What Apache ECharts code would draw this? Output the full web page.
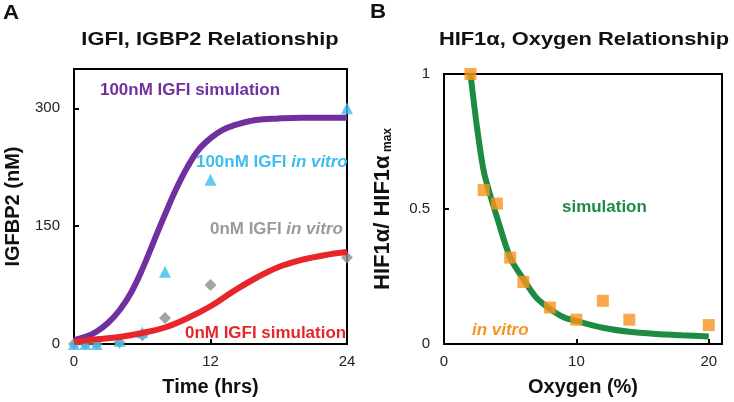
<!DOCTYPE html>
<html>
<head>
<meta charset="utf-8">
<script src="https://cdn.jsdelivr.net/npm/echarts@6/dist/echarts.min.js"></script>
<style>
  html, body { margin: 0; padding: 0; background: #fff; }
  #chart { width: 734px; height: 402px; }
</style>
</head>
<body>
<div id="chart"></div>
<script>
// panel A: IGFBP2 vs time
const simHours = [0, 1, 2, 3, 4, 5, 6, 7, 8, 9, 10, 11, 12, 13, 14, 16, 18, 20, 22, 24];
const sim100nM = [5, 9, 16, 27, 43, 65, 95, 130, 165, 198, 226, 248, 262, 272, 278, 285, 287, 288, 288, 288];
const simHours0 = [0, 2, 4, 6, 8, 10, 12, 14, 16, 18, 20, 22, 24];
const sim0nM = [3, 6, 9, 14, 21, 33, 48, 67, 84, 98, 107, 113, 117];
const vitroHours = [0, 1, 2, 4, 6, 8, 12, 24];
const vitro100nM = [0, 0, 0, 4, 15, 92, 209, 300];
const vitroHours0 = [0, 1, 2, 4, 6, 8, 12, 24];
const vitro0nM = [0, 0, 0, 2, 11, 33, 75, 110];

// panel B: HIF1a vs oxygen
const simOxygen = [2, 2.5, 3, 3.5, 4, 5, 6, 7, 8, 9, 10, 12, 14, 16, 18, 20];
const simHif = [1.0, 0.8, 0.64, 0.55, 0.47, 0.32, 0.24, 0.17, 0.13, 0.1, 0.085, 0.06, 0.045, 0.037, 0.032, 0.028];
const vitroOxygen = [2, 3, 4, 5, 6, 8, 10, 12, 14, 20];
const vitroHif = [1.0, 0.57, 0.52, 0.32, 0.23, 0.135, 0.09, 0.16, 0.09, 0.07];

const ticksA_x = [0, 12, 24];
const ticksA_y = [0, 150, 300];
const ticksB_x = [0, 10, 20];
const ticksB_y = [0, 0.5, 1];

const pair = (xs, ys) => xs.map((x, i) => [x, ys[i]]);
const font = 'Liberation Sans, Arial, sans-serif';

const chart = echarts.init(document.getElementById('chart'));

const tickStyle = { show: true, inside: true, length: 5, lineStyle: { color: '#000', width: 2 } };
const nameStyle = { fontFamily: font, fontWeight: 'bold', fontSize: 20, color: '#111' };
const labelStyle = { fontFamily: font, fontSize: 15, color: '#222' };

function labelOnly(ticks) {
  return v => (ticks.some(t => Math.abs(t - v) < 1e-9) ? String(v) : '');
}

// text drawn a bit wider than the font, like the original figure
function txt(x, y, text, size, color, italic) {
  return {
    type: 'text', x: x, y: y, scaleX: 1.06, z: 10,
    style: { text: text, fill: color, font: (italic ? 'italic ' : '') + 'bold ' + size + 'px ' + font, verticalAlign: 'middle' }
  };
}

function richTxt(x, y, plain, italic, size, color) {
  return {
    type: 'text', x: x, y: y, scaleX: 1.06, z: 10,
    style: {
      text: '{a|' + plain + '}{b|' + italic + '}', verticalAlign: 'middle',
      rich: {
        a: { font: 'bold ' + size + 'px ' + font, fill: color },
        b: { font: 'italic bold ' + size + 'px ' + font, fill: color }
      }
    }
  };
}

const option = {
  animation: false,
  backgroundColor: '#fff',
  grid: [
    { left: 74, top: 69, width: 273, height: 279, show: true, borderColor: '#000', borderWidth: 2 },
    { left: 444, top: 74, width: 278, height: 274, show: true, borderColor: '#000', borderWidth: 2 }
  ],
  xAxis: [
    {
      gridIndex: 0, type: 'value', min: 0, max: 24, interval: 12,
      name: 'Time (hrs)', nameLocation: 'middle', nameGap: 33, nameTextStyle: nameStyle,
      axisLine: { lineStyle: { color: '#000', width: 2 } }, splitLine: { show: false },
      axisTick: tickStyle,
      axisLabel: Object.assign({ margin: 10, formatter: labelOnly(ticksA_x) }, labelStyle)
    },
    {
      gridIndex: 1, type: 'value', min: 0, max: 21, interval: 10,
      name: 'Oxygen (%)', nameLocation: 'middle', nameGap: 33, nameTextStyle: nameStyle,
      axisLine: { lineStyle: { color: '#000', width: 2 } }, splitLine: { show: false },
      axisTick: tickStyle,
      axisLabel: Object.assign({ margin: 10, formatter: labelOnly(ticksB_x) }, labelStyle)
    }
  ],
  yAxis: [
    {
      gridIndex: 0, type: 'value', min: 0, max: 350, interval: 150,
      name: 'IGFBP2 (nM)', nameLocation: 'middle', nameGap: 51, nameTextStyle: nameStyle,
      axisLine: { lineStyle: { color: '#000', width: 2 } }, splitLine: { show: false },
      axisTick: tickStyle,
      axisLabel: Object.assign({ margin: 14, formatter: labelOnly(ticksA_y) }, labelStyle)
    },
    {
      gridIndex: 1, type: 'value', min: 0, max: 1, interval: 0.5,
      name: '{n|HIF1α/ HIF1α}{s| max}', nameLocation: 'middle', nameGap: 50,
      nameTextStyle: {
        rich: {
          n: { fontFamily: font, fontWeight: 'bold', fontSize: 22, color: '#111' },
          s: { fontFamily: font, fontWeight: 'bold', fontSize: 12, color: '#111', verticalAlign: 'bottom', padding: [10, 0, 0, 0] }
        }
      },
      axisLine: { lineStyle: { color: '#000', width: 2 } }, splitLine: { show: false },
      axisTick: tickStyle,
      axisLabel: Object.assign({ margin: 14, formatter: labelOnly(ticksB_y) }, labelStyle)
    }
  ],
  graphic: [
    txt(3, 13, 'A', 21, '#111'),
    txt(370, 12, 'B', 21, '#111'),
    { type: 'text', x: 210, y: 40, scaleX: 1.15, z: 10,
      style: { text: 'IGFI, IGBP2 Relationship', fill: '#111', font: 'bold 19px ' + font, align: 'center', verticalAlign: 'middle' } },
    { type: 'text', x: 584, y: 40, scaleX: 1.15, z: 10,
      style: { text: 'HIF1α, Oxygen Relationship', fill: '#111', font: 'bold 19px ' + font, align: 'center', verticalAlign: 'middle' } },
    txt(100, 91, '100nM IGFI simulation', 16, '#7030A0'),
    richTxt(196, 163, '100nM IGFI ', 'in vitro', 16, '#3DBDEE'),
    richTxt(210, 230, '0nM IGFI ', 'in vitro', 16, '#9A9A9A'),
    txt(185, 334, '0nM IGFI simulation', 16, '#E8262A'),
    txt(562, 208, 'simulation', 16, '#1E8B43'),
    txt(472, 331, 'in vitro', 16, '#F7941D', true)
  ],
  series: [
    {
      name: '100nM IGFI simulation', type: 'line', xAxisIndex: 0, yAxisIndex: 0, smooth: 0.4,
      showSymbol: false, lineStyle: { color: '#7030A0', width: 6 }, z: 3,
      data: pair(simHours, sim100nM)
    },
    {
      name: '0nM IGFI simulation', type: 'line', xAxisIndex: 0, yAxisIndex: 0, smooth: 0.4,
      showSymbol: false, lineStyle: { color: '#E8262A', width: 6 }, z: 3,
      data: pair(simHours0, sim0nM)
    },
    {
      name: '0nM IGFI in vitro', type: 'scatter', xAxisIndex: 0, yAxisIndex: 0,
      symbol: 'diamond', symbolSize: 12, itemStyle: { color: '#8C8C8C' }, z: 2,
      data: pair(vitroHours0, vitro0nM)
    },
    {
      name: '100nM IGFI in vitro', type: 'scatter', xAxisIndex: 0, yAxisIndex: 0,
      symbol: 'triangle', symbolSize: 12, itemStyle: { color: '#3DBDEE' }, z: 2,
      data: pair(vitroHours, vitro100nM)
    },
    {
      name: 'simulation', type: 'line', xAxisIndex: 1, yAxisIndex: 1, smooth: 0.3,
      showSymbol: false, lineStyle: { color: '#1E8B43', width: 6 }, z: 3,
      data: pair(simOxygen, simHif)
    },
    {
      name: 'in vitro', type: 'scatter', xAxisIndex: 1, yAxisIndex: 1,
      symbol: 'rect', symbolSize: 12, itemStyle: { color: '#F7941D' }, z: 4,
      data: pair(vitroOxygen, vitroHif)
    }
  ]
};

chart.setOption(option);
</script>
</body>
</html>
